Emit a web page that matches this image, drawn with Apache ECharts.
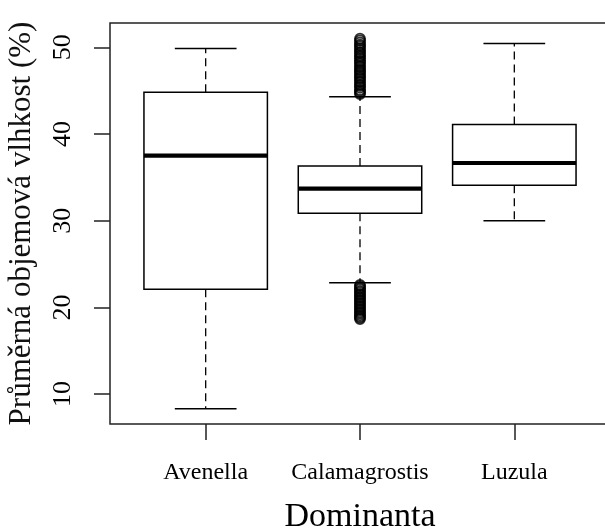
<!DOCTYPE html>
<html>
<head>
<meta charset="utf-8">
<script src="https://cdn.jsdelivr.net/npm/echarts@6/dist/echarts.min.js"></script>
<style>
  html, body { margin: 0; padding: 0; background: #fff; }
  #chart { width: 605px; height: 531px; }
</style>
</head>
<body>
<div id="chart"></div>
<script>
// Soil moisture by dominant species: five-number summaries plus outliers
const categories = ['Avenella', 'Calamagrostis', 'Luzula'];
const whiskerLow = [8.3, 22.85, 30.0];
const quartile1 = [22.1, 30.85, 34.1];
const medians = [37.5, 33.7, 36.65];
const quartile3 = [44.8, 36.3, 41.1];
const whiskerHigh = [49.85, 44.3, 50.45];

// Outliers (only Calamagrostis has any)
const outliersHigh = [
  51.0, 50.8, 50.55, 50.3, 50.15, 49.9, 49.7, 49.45, 49.3, 49.05, 48.9, 48.7,
  48.45, 48.3, 48.1, 47.85, 47.7, 47.45, 47.3, 47.1, 46.9, 46.7, 46.5, 46.35,
  46.1, 45.95, 45.7, 45.55, 45.35, 45.1, 44.95, 44.75, 44.6
];
const outliersLow = [
  22.6, 22.45, 22.25, 22.1, 21.9, 21.75, 21.55, 21.4, 21.2, 21.05, 20.85, 20.7,
  20.5, 20.35, 20.15, 20.0, 19.8, 19.65, 19.45, 19.3, 19.1, 18.95, 18.8, 18.65
];

const yTicks = [10, 20, 30, 40, 50];
const xTicks = [1, 2, 3];

const FONT = 'Liberation Serif';

const boxData = categories.map((c, i) => [
  i + 1, whiskerLow[i], quartile1[i], medians[i], quartile3[i], whiskerHigh[i]
]);
const outlierData = outliersHigh.concat(outliersLow).map(v => [2, v]);

function renderBox(params, api) {
  const x = api.value(0);
  const pLo = api.coord([x, api.value(1)]);
  const pQ1 = api.coord([x, api.value(2)]);
  const pMed = api.coord([x, api.value(3)]);
  const pQ3 = api.coord([x, api.value(4)]);
  const pHi = api.coord([x, api.value(5)]);
  const bw = api.size([0.8, 0])[0];
  const cw = bw / 2;
  const cx = pMed[0];
  const dashStyle = { stroke: '#000', lineWidth: 1.3, lineDash: [8, 5] };
  const solid = { stroke: '#000', lineWidth: 1.5 };
  return {
    type: 'group',
    children: [
      { type: 'line', shape: { x1: cx, y1: pQ3[1], x2: cx, y2: pHi[1] }, style: dashStyle },
      { type: 'line', shape: { x1: cx, y1: pQ1[1], x2: cx, y2: pLo[1] }, style: dashStyle },
      { type: 'line', shape: { x1: cx - cw / 2, y1: pHi[1], x2: cx + cw / 2, y2: pHi[1] }, style: solid },
      { type: 'line', shape: { x1: cx - cw / 2, y1: pLo[1], x2: cx + cw / 2, y2: pLo[1] }, style: solid },
      { type: 'rect', shape: { x: cx - bw / 2, y: pQ3[1], width: bw, height: pQ1[1] - pQ3[1] },
        style: { fill: '#fff', stroke: '#000', lineWidth: 1.5 } },
      { type: 'line', shape: { x1: cx - bw / 2, y1: pMed[1], x2: cx + bw / 2, y2: pMed[1] },
        style: { stroke: '#000', lineWidth: 4.2 } }
    ]
  };
}

const chart = echarts.init(document.getElementById('chart'), null, { renderer: 'canvas' });
chart.setOption({
  animation: false,
  backgroundColor: '#fff',
  grid: {
    left: 110, top: 23, width: 500, height: 401,
    show: true, borderColor: '#222', borderWidth: 1.5, backgroundColor: 'transparent',
    containLabel: false, outerBoundsMode: 'none'
  },
  xAxis: {
    type: 'value', min: 0.38, max: 3.62,
    splitLine: { show: false },
    axisLine: { show: false },
    axisTick: { show: true, length: 16, customValues: xTicks, lineStyle: { color: '#222', width: 1.5 } },
    axisLabel: {
      customValues: xTicks,
      formatter: v => categories[Math.round(v) - 1] || '',
      fontFamily: FONT, fontSize: 24, lineHeight: 24, color: '#000', margin: 37
    },
    name: 'Dominanta', nameLocation: 'middle', nameGap: 76,
    nameTextStyle: { fontFamily: FONT, fontSize: 34, lineHeight: 34, color: '#000' }
  },
  yAxis: {
    type: 'value', min: 6.55, max: 52.8,
    splitLine: { show: false },
    axisLine: { show: false },
    axisTick: { show: true, length: 16, customValues: yTicks, lineStyle: { color: '#222', width: 1.5 } },
    axisLabel: {
      customValues: yTicks, rotate: 90,
      fontFamily: FONT, fontSize: 26, lineHeight: 26, color: '#000', margin: 34
    },
    name: 'Průměrná objemová vlhkost (%)', nameLocation: 'middle', nameRotate: 90, nameGap: 73,
    nameTextStyle: { fontFamily: FONT, fontSize: 31, lineHeight: 31, color: '#111' }
  },
  series: [
    {
      type: 'custom',
      renderItem: renderBox,
      data: boxData,
      encode: { x: 0, y: [1, 2, 3, 4, 5] },
      z: 2
    },
    {
      type: 'scatter',
      data: outlierData,
      symbol: 'circle',
      symbolSize: 10,
      itemStyle: { color: 'transparent', borderColor: '#000', borderWidth: 1.8 },
      z: 3
    }
  ]
});
</script>
</body>
</html>
